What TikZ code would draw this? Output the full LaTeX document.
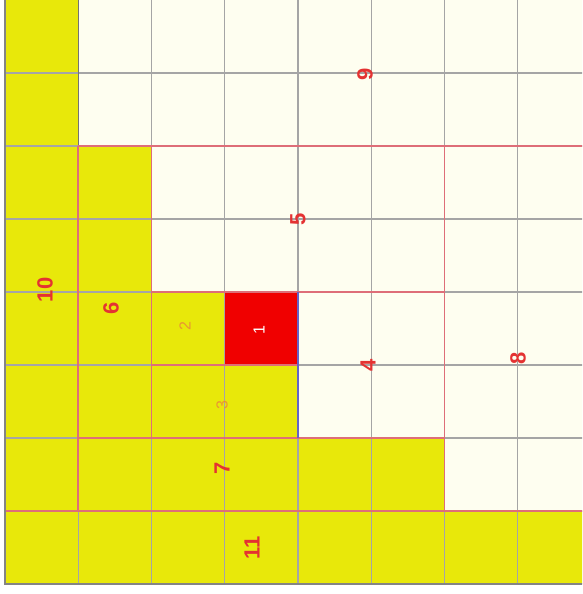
\documentclass[tikz,border=0pt]{standalone}
\usepackage{fontspec}
\setmainfont{Liberation Sans}
\definecolor{yel}{RGB}{232,232,10}
\definecolor{ivory}{RGB}{254,254,240}
\definecolor{redcell}{RGB}{240,0,0}
\definecolor{lab}{RGB}{228,50,50}
\definecolor{lab2}{RGB}{232,150,50}
\definecolor{gridc}{RGB}{165,165,165}
\definecolor{edge}{RGB}{222,110,120}
\tikzset{
  yreg/.style={fill=yel},
  wreg/.style={fill=ivory},
  rreg/.style={fill=redcell},
  regedge/.style={draw=edge,line width=1.7pt},
  gridline/.style={draw=gridc,line width=1.2pt},
  biglab/.style={text=lab,font=\fontsize{22}{22}\selectfont\bfseries,rotate=90,inner sep=0pt},
  smalllab/.style={text=lab2,font=\fontsize{16}{16}\selectfont,rotate=90,inner sep=0pt},
  whitelab/.style={text=white,font=\fontsize{16}{16}\selectfont,rotate=90,inner sep=0pt}
}
\begin{document}
\begin{tikzpicture}[x=1pt,y=1pt]
\useasboundingbox (0,0) rectangle (582,594);
\fill[white] (0,0) rectangle (582,594);
\begin{scope}
\clip (0,0) rectangle (582,594);
\begin{scope}[shift={(5pt,10pt)},x=73.25pt,y=73pt]
  % regions
  \path[yreg] (0,0) rectangle (8,1);   % 11
  \path[yreg] (0,1) rectangle (1,8);   % 10
  \path[wreg] (1,6) rectangle (8,8.2); % 9
  \path[wreg] (6,1) rectangle (8,6);   % 8
  \path[yreg] (1,1) rectangle (6,2);   % 7
  \path[yreg] (1,2) rectangle (2,6);   % 6
  \path[wreg] (2,4) rectangle (6,6);   % 5
  \path[wreg] (4,2) rectangle (6,4);   % 4
  \path[yreg] (2,2) rectangle (4,3);   % 3
  \path[yreg] (2,3) rectangle (3,4);   % 2
  \path[rreg] (3,3) rectangle (4,4);   % 1
  % grid
  \foreach \i in {1,...,7} {
    \draw[gridline] (\i,0) -- (\i,8.2);
    \draw[gridline] (0,\i) -- (8,\i);
  }
  % region borders
  \draw[regedge] (0,1) -- (8,1);
  \draw[regedge] (1,1) -- (1,6);
  \draw[draw=gridc!70!black,line width=1.3pt] (1,6) -- (1,8.2);
  \draw[regedge] (1,6) -- (8,6);
  \draw[regedge] (6,1) -- (6,6);
  \draw[regedge] (1,2) -- (6,2);
  \draw[regedge] (2,2) -- (2,6);
  \draw[regedge] (2,4) -- (6,4);
  \draw[regedge] (2,3) -- (4,3);
  \draw[draw=gridc!60!blue,line width=1.2pt] (4,2) -- (4,4);
  % outer border
  \draw[draw=gridc!80!black,line width=1.6pt] (0,8.2) -- (0,0) -- (8,0);
\end{scope}
\end{scope}
% labels (pixel positions, y measured from top)
\node[biglab]   (l10) at (45,{594-290}) {10};
\node[biglab]   (l11) at (252,{594-548}) {11};
\node[biglab]   (l9)  at (365,{594-74}) {9};
\node[biglab]   (l8)  at (518,{594-358}) {8};
\node[biglab]   (l7)  at (222,{594-468}) {7};
\node[biglab]   (l6)  at (111,{594-308}) {6};
\node[biglab]   (l5)  at (298,{594-219}) {5};
\node[biglab]   (l4)  at (368,{594-365}) {4};
\node[smalllab] (l3)  at (222,{594-405}) {3};
\node[smalllab] (l2)  at (185,{594-326}) {2};
\node[whitelab] (l1)  at (259,{594-330}) {1};
\end{tikzpicture}
\end{document}
